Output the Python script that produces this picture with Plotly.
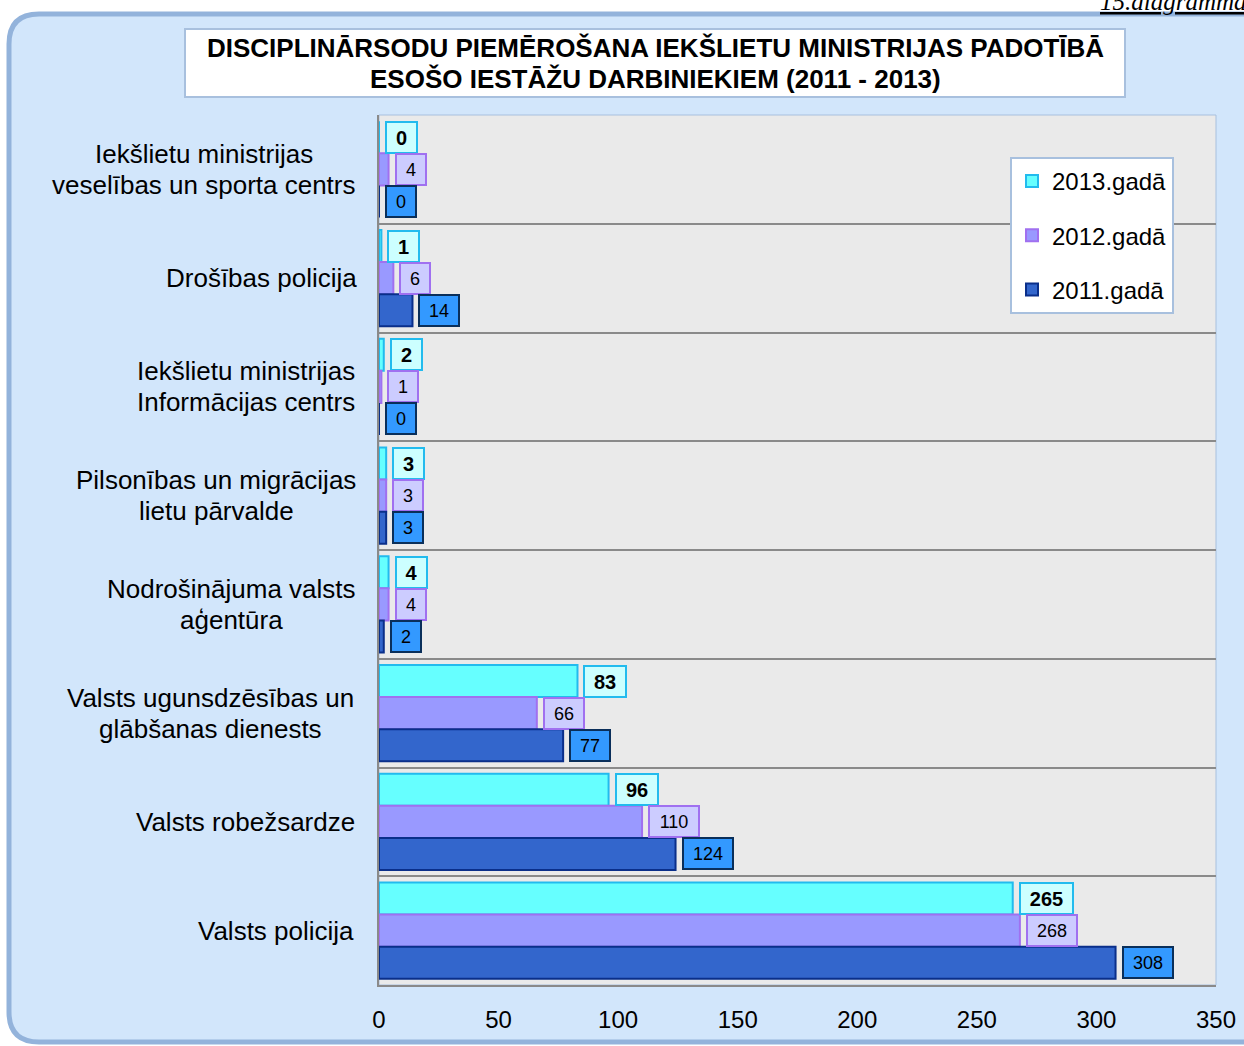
import plotly.graph_objects as go

categories = [
    "Iekšlietu ministrijas<br>veselības un sporta centrs",
    "Drošības policija",
    "Iekšlietu ministrijas<br>Informācijas centrs",
    "Pilsonības un migrācijas<br>lietu pārvalde",
    "Nodrošinājuma valsts<br>aģentūra",
    "Valsts ugunsdzēsības un<br>glābšanas dienests",
    "Valsts robežsardze",
    "Valsts policija",
]
cat_ids = [f"c{i}" for i in range(len(categories))]
v2013 = [0, 1, 2, 3, 4, 83, 96, 265]
v2012 = [4, 6, 1, 3, 4, 66, 110, 268]
v2011 = [0, 14, 0, 3, 2, 77, 124, 308]
series_names = ["2013.gadā", "2012.gadā", "2011.gadā"]
x_ticks = [0, 50, 100, 150, 200, 250, 300, 350]
title_lines = ["DISCIPLINĀRSODU PIEMĒROŠANA IEKŠLIETU MINISTRIJAS PADOTĪBĀ",
               "ESOŠO IESTĀŽU DARBINIEKIEM (2011 - 2013)"]

W, H = 1244, 1046
PL, PR, PT, PB = 379, 1216, 115, 985
BARGAP = 0.117
FONT = "Liberation Sans, Arial, sans-serif"
LABEL_SIZE = 26


def px(X):
    return (X - PL) / (PR - PL)


def py(Y):
    return (PB - Y) / (PB - PT)


styles = [
    dict(fill="#66FFFF", line="#22BBEE", lbg="#CCFFFF", lborder="#22BBEE", bold=True, size=20, cw=11),
    dict(fill="#9999FF", line="#A070F0", lbg="#CCCCFF", lborder="#A070F0", bold=False, size=18, cw=10),
    dict(fill="#3366CC", line="#0A2F8A", lbg="#3399FF", lborder="#0A2F5A", bold=False, size=18, cw=10),
]
values = [v2013, v2012, v2011]

fig = go.Figure()
for name, vals, st in zip(series_names, values, styles):
    fig.add_trace(go.Bar(
        y=cat_ids, x=vals, orientation="h", name=name,
        marker=dict(color=st["fill"], line=dict(color=st["line"], width=2)),
        legendgroup=name, hoverinfo="skip",
    ))

# data label boxes
cat_px = (PB - PT) / len(categories)
bar_px = cat_px * (1 - BARGAP) / 3
annotations = []
for k, (vals, st) in enumerate(zip(values, styles)):
    shift = (1 - k) * bar_px
    for cid, v in zip(cat_ids, vals):
        txt = f"<b>{v}</b>" if st["bold"] else str(v)
        annotations.append(dict(
            x=v, y=cid, xref="x", yref="y", text=txt, showarrow=False,
            xanchor="left", yanchor="middle", xshift=6, yshift=shift,
            font=dict(family=FONT, size=st["size"], color="black"),
            bgcolor=st["lbg"], bordercolor=st["lborder"], borderwidth=2,
            borderpad=1, width=len(str(v)) * st["cw"] + 16, height=27,
        ))


def text_w(s, size):
    w = 0.0
    for ch in s:
        if ch in "ilj.,|'īļ":
            w += 0.222
        elif ch in "ftrI()-":
            w += 0.3
        elif ch == " ":
            w += 0.278
        elif ch in "mwMW":
            w += 0.833
        elif ch.isupper():
            w += 0.667
        elif ch in "csčzkvyxžš":
            w += 0.5
        else:
            w += 0.556
    return w * size


# category labels (centered lines, right-anchored block)
LINE_H = 31
for cid, lab in zip(cat_ids, categories):
    lines = lab.split("<br>")
    n = len(lines)
    ww = max(text_w(s, LABEL_SIZE) for s in lines)
    for i, line in enumerate(lines):
        annotations.append(dict(
            x=0, y=cid, xref="paper", yref="y", text=line, showarrow=False,
            xanchor="center", yanchor="middle", align="center",
            xshift=-24 - ww / 2,
            yshift=((n - 1) / 2 - i) * LINE_H,
            font=dict(family=FONT, size=LABEL_SIZE, color="black"),
        ))

# title (two lines)
for i, line in enumerate(title_lines):
    annotations.append(dict(
        x=px(655), y=py(48 + 31 * i), xref="paper", yref="paper",
        text=f"<b>{line}</b>", showarrow=False, xanchor="center", yanchor="middle",
        font=dict(family=FONT, size=26, color="black"),
    ))
# diagram number, cut at the page edge
annotations.append(dict(
    x=px(1098), y=py(17), xref="paper", yref="paper",
    text="<i><u>15.diagramma</u></i>", showarrow=False,
    xanchor="left", yanchor="bottom",
    font=dict(family="Liberation Serif, Times New Roman, serif", size=25, color="black"),
))


def rounded_path(x0, y0, x1, y1, r):
    X0, X1 = px(x0), px(x1)
    Y0, Y1 = py(y0), py(y1)
    rx = r / (PR - PL)
    ry = r / (PB - PT)
    return (f"M {X0+rx},{Y0} L {X1-rx},{Y0} Q {X1},{Y0} {X1},{Y0-ry} "
            f"L {X1},{Y1+ry} Q {X1},{Y1} {X1-rx},{Y1} L {X0+rx},{Y1} "
            f"Q {X0},{Y1} {X0},{Y1+ry} L {X0},{Y0-ry} Q {X0},{Y0} {X0+rx},{Y0} Z")


shapes = [
    dict(type="path", xref="paper", yref="paper", layer="below",
         path=rounded_path(9, 14, 1275, 1042, 30),
         fillcolor="#D2E6FB", line=dict(color="#93B3DB", width=5)),
    dict(type="rect", xref="paper", yref="paper", layer="below",
         x0=0, x1=1, y0=0, y1=1, fillcolor="#EAEAEA",
         line=dict(color="#A8C0DE", width=1)),
    dict(type="rect", xref="paper", yref="paper", layer="below",
         x0=px(185), x1=px(1125), y0=py(97), y1=py(29), fillcolor="white",
         line=dict(color="#A8C0DE", width=2)),
]

fig.update_layout(
    width=W, height=H,
    margin=dict(l=PL, r=W - PR, t=PT, b=H - PB, pad=0, autoexpand=False),
    paper_bgcolor="white", plot_bgcolor="rgba(0,0,0,0)",
    barmode="group", bargap=BARGAP, bargroupgap=0,
    font=dict(family=FONT, color="black"),
    xaxis=dict(range=[0, 350], tickvals=x_ticks, showgrid=False, zeroline=False,
               showline=True, linecolor="#8A8A8A", linewidth=2,
               tickfont=dict(size=24, color="black"), ticks="",
               ticklabelstandoff=12, automargin=False),
    yaxis=dict(type="category", categoryorder="array", categoryarray=cat_ids,
               autorange="reversed", showticklabels=False, tickson="boundaries",
               showgrid=True, gridcolor="#8A8A8A", gridwidth=2, ticks="",
               showline=True, linecolor="#8A8A8A", linewidth=2, zeroline=False,
               automargin=False),
    legend=dict(x=px(1010), y=py(157), xanchor="left", yanchor="top",
                bgcolor="white", bordercolor="#A8C0DE", borderwidth=2,
                font=dict(size=24, color="black"), traceorder="grouped",
                tracegroupgap=20, itemclick=False),
    annotations=annotations, shapes=shapes, showlegend=True,
)

fig.write_html("out.html", config={"displayModeBar": False},
               post_script="document.body.style.margin='0';")
